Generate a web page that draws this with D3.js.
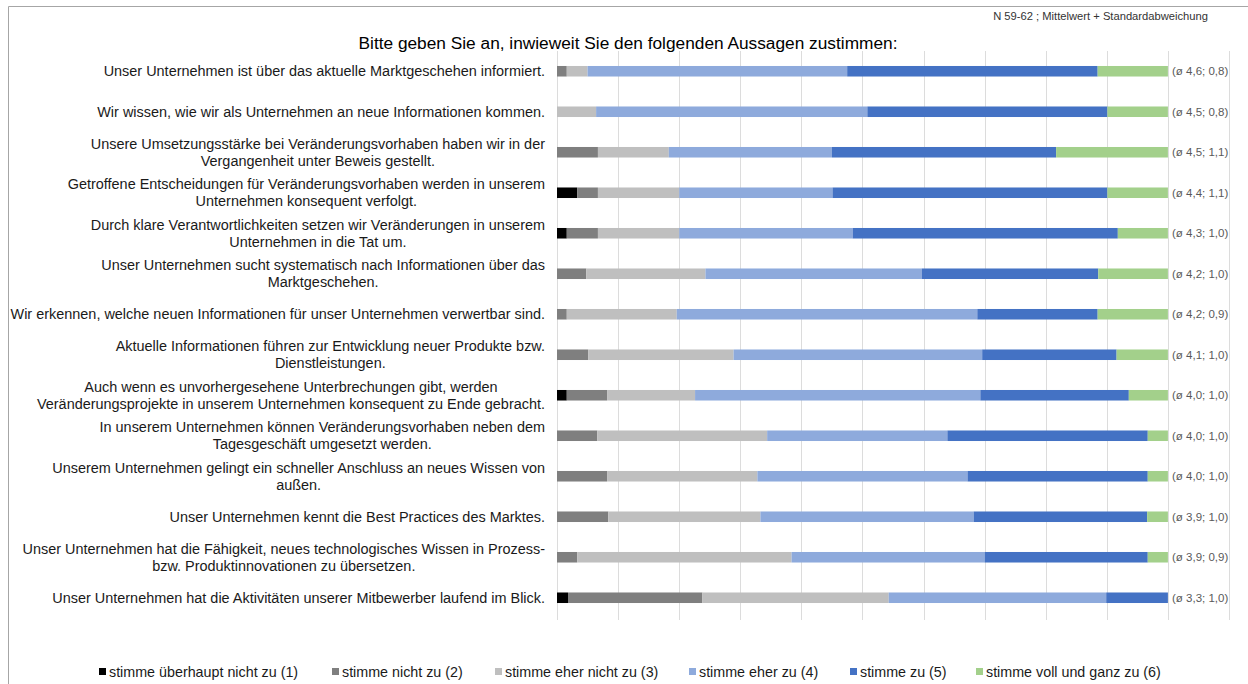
<!DOCTYPE html>
<html>
<head>
<meta charset="utf-8">
<script src="https://cdn.jsdelivr.net/npm/d3@7"></script>
<style>
  html, body { margin: 0; padding: 0; background: #fff; }
  svg { display: block; font-family: "Liberation Sans", Arial, sans-serif; }
</style>
</head>
<body>
<svg id="chart" width="1248" height="684"></svg>
<script>
// Statements (line breaks marked with "|")
const statements = [
  "Unser Unternehmen ist über das aktuelle Marktgeschehen informiert.",
  "Wir wissen, wie wir als Unternehmen an neue Informationen kommen.",
  "Unsere Umsetzungsstärke bei Veränderungsvorhaben haben wir in der|Vergangenheit unter Beweis gestellt.",
  "Getroffene Entscheidungen für Veränderungsvorhaben werden in unserem|Unternehmen konsequent verfolgt.",
  "Durch klare Verantwortlichkeiten setzen wir Veränderungen in unserem|Unternehmen in die Tat um.",
  "Unser Unternehmen sucht systematisch nach Informationen über das|Marktgeschehen.",
  "Wir erkennen, welche neuen Informationen für unser Unternehmen verwertbar sind.",
  "Aktuelle Informationen führen zur Entwicklung neuer Produkte bzw.|Dienstleistungen.",
  "Auch wenn es unvorhergesehene Unterbrechungen gibt, werden|Veränderungsprojekte in unserem Unternehmen konsequent zu Ende gebracht.",
  "In unserem Unternehmen können Veränderungsvorhaben neben dem|Tagesgeschäft umgesetzt werden.",
  "Unserem Unternehmen gelingt ein schneller Anschluss an neues Wissen von|außen.",
  "Unser Unternehmen kennt die Best Practices des Marktes.",
  "Unser Unternehmen hat die Fähigkeit, neues technologisches Wissen in Prozess-|bzw. Produktinnovationen zu übersetzen.",
  "Unser Unternehmen hat die Aktivitäten unserer Mitbewerber laufend im Blick."
];

// Answer shares in percent, one array per scale point
const stimme1 = [0, 0, 0, 3.3, 1.6, 0, 0, 0, 1.6, 0, 0, 0, 0, 1.8];
const stimme2 = [1.6, 0, 6.7, 3.4, 5.1, 4.8, 1.6, 5.1, 6.6, 6.6, 8.2, 8.4, 3.3, 22.0];
const stimme3 = [3.4, 6.4, 11.6, 13.3, 13.3, 19.5, 18.0, 23.8, 14.4, 27.8, 24.6, 24.9, 35.1, 30.5];
const stimme4 = [42.5, 44.4, 26.7, 25.1, 28.4, 35.4, 49.2, 40.7, 46.7, 29.5, 34.4, 34.9, 31.6, 35.6];
const stimme5 = [41.0, 39.3, 36.7, 45.0, 43.4, 28.9, 19.7, 22.0, 24.3, 32.8, 29.5, 28.4, 26.7, 10.1];
const stimme6 = [11.5, 9.9, 18.3, 9.9, 8.2, 11.4, 11.5, 8.4, 6.4, 3.3, 3.3, 3.4, 3.3, 0];

// Mean and standard deviation per statement
const means = [4.6, 4.5, 4.5, 4.4, 4.3, 4.2, 4.2, 4.1, 4.0, 4.0, 4.0, 3.9, 3.9, 3.3];
const sds   = [0.8, 0.8, 1.1, 1.1, 1.0, 1.0, 0.9, 1.0, 1.0, 1.0, 1.0, 1.0, 0.9, 1.0];

const seriesNames = [
  "stimme überhaupt nicht zu (1)",
  "stimme nicht zu (2)",
  "stimme eher nicht zu (3)",
  "stimme eher zu (4)",
  "stimme zu (5)",
  "stimme voll und ganz zu (6)"
];
const seriesColors = ["#000000", "#7f7f7f", "#bfbfbf", "#8eaadc", "#4472c4", "#a3d08b"];
const gridTicks = [0, 10, 20, 30, 40, 50, 60, 70, 80, 90, 100, 110];

const titleText = "Bitte geben Sie an, inwieweit Sie den folgenden Aussagen zustimmen:";
const noteText = "N 59-62 ; Mittelwert + Standardabweichung";

// ---- build table for the stack layout
const seriesArrays = [stimme1, stimme2, stimme3, stimme4, stimme5, stimme6];
const rows = statements.map((s, i) => {
  const r = { key: s };
  seriesNames.forEach((n, j) => { r[n] = seriesArrays[j][i]; });
  return r;
});
const stacked = d3.stack().keys(seriesNames)(rows);

const svg = d3.select("#chart");

// frame
svg.append("path")
  .attr("d", "M8.5,684 L8.5,6.5 L1248,6.5")
  .attr("fill", "none")
  .attr("stroke", "#a6a6a6")
  .attr("stroke-width", 1);

const x = d3.scaleLinear().domain([0, 110]).range([557, 1229]);
const y = d3.scaleBand().domain(statements).range([51, 618]).paddingInner(0.74).paddingOuter(0.37);

// vertical gridlines
svg.append("g")
  .selectAll("line")
  .data(gridTicks)
  .join("line")
  .attr("x1", d => Math.round(x(d)) + 0.5)
  .attr("x2", d => Math.round(x(d)) + 0.5)
  .attr("y1", 51)
  .attr("y2", 620)
  .attr("stroke", "#dcdcdc")
  .attr("stroke-width", 1);

// stacked bars
svg.append("g")
  .selectAll("g")
  .data(stacked)
  .join("g")
  .attr("fill", (d, i) => seriesColors[i])
  .selectAll("rect")
  .data(d => d)
  .join("rect")
  .attr("x", d => x(d[0]))
  .attr("y", d => y(d.data.key))
  .attr("width", d => Math.max(0, x(d[1]) - x(d[0])))
  .attr("height", y.bandwidth());

// category labels: block right-aligned, lines centred within the block
const labelRight = 545;
const lineH = 17;
const labels = svg.append("g")
  .attr("font-size", 14.45)
  .attr("fill", "#1a1a1a");
statements.forEach(s => {
  const lines = s.split("|");
  const cy = y(s) + y.bandwidth() / 2;
  const t = labels.append("text").attr("text-anchor", "middle");
  lines.forEach((ln, k) => {
    t.append("tspan")
      .attr("y", cy + (k - (lines.length - 1) / 2) * lineH)
      .attr("dy", "0.35em")
      .text(ln);
  });
  let maxW = 0;
  t.selectAll("tspan").each(function() {
    maxW = Math.max(maxW, this.getComputedTextLength());
  });
  t.selectAll("tspan").attr("x", labelRight - maxW / 2);
});

// mean / standard deviation labels
const fmt = v => v.toFixed(1).replace(".", ",");
svg.append("g")
  .attr("font-size", 11.5)
  .attr("fill", "#595959")
  .selectAll("text")
  .data(statements)
  .join("text")
  .attr("x", 1172)
  .attr("y", d => y(d) + y.bandwidth() / 2)
  .attr("dy", "0.35em")
  .text((d, i) => `(ø  ${fmt(means[i])}; ${fmt(sds[i])})`);

// title and note
svg.append("text")
  .attr("x", 628)
  .attr("y", 43)
  .attr("dy", "0.35em")
  .attr("text-anchor", "middle")
  .attr("font-size", 17.3)
  .attr("fill", "#000")
  .text(titleText);

svg.append("text")
  .attr("x", 1208)
  .attr("y", 16)
  .attr("dy", "0.35em")
  .attr("text-anchor", "end")
  .attr("font-size", 11.2)
  .attr("fill", "#333")
  .text(noteText);

// legend
const legendX = [99, 332, 495, 689, 850, 976];
const legend = svg.append("g").attr("font-size", 14.3).attr("fill", "#1a1a1a");
seriesNames.forEach((n, i) => {
  legend.append("rect")
    .attr("x", legendX[i])
    .attr("y", 668)
    .attr("width", 7)
    .attr("height", 7)
    .attr("fill", seriesColors[i]);
  legend.append("text")
    .attr("x", legendX[i] + 10)
    .attr("y", 672)
    .attr("dy", "0.35em")
    .text(n);
});
</script>
</body>
</html>
